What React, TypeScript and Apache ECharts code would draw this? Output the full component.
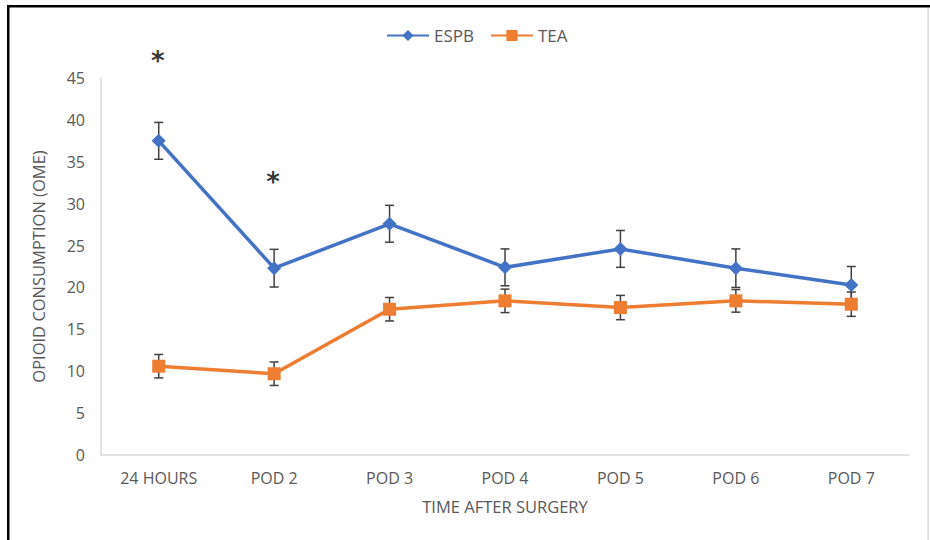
import React, { useEffect, useRef } from "react";
import * as echarts from "echarts";

const categories = ["24 HOURS", "POD 2", "POD 3", "POD 4", "POD 5", "POD 6", "POD 7"];
const espbValues = [37.5, 22.3, 27.6, 22.4, 24.6, 22.3, 20.3];
const espbErrors = [2.2, 2.25, 2.2, 2.2, 2.2, 2.3, 2.2];
const teaValues = [10.6, 9.7, 17.4, 18.4, 17.6, 18.4, 18.0];
const teaErrors = [1.4, 1.4, 1.4, 1.4, 1.45, 1.35, 1.45];
const significanceIndex = [0, 1];
const significanceLevel = [47.4, 33.0];
const yTicks = { min: 0, max: 45, interval: 5 };

const BLUE = "#4472C4";
const ORANGE = "#ED7D31";
const TEXT = "#595959";
const FONT = "'Open Sans', 'Noto Sans', sans-serif";

function errorBarSeries(name: string, values: number[], errors: number[]) {
  return {
    type: "custom",
    name: name + " error",
    z: 1,
    silent: true,
    data: values.map((v, i) => [i, v - errors[i], v + errors[i]]),
    encode: { x: 0, y: [1, 2] },
    renderItem: (params: any, api: any) => {
      const idx = api.value(0);
      const top = api.coord([idx, api.value(2)]);
      const bot = api.coord([idx, api.value(1)]);
      const hw = 4.5;
      const style = { stroke: "#404040", lineWidth: 1.5 };
      return {
        type: "group",
        children: [
          { type: "line", shape: { x1: top[0], y1: top[1], x2: bot[0], y2: bot[1] }, style },
          { type: "line", shape: { x1: top[0] - hw, y1: top[1], x2: top[0] + hw, y2: top[1] }, style },
          { type: "line", shape: { x1: bot[0] - hw, y1: bot[1], x2: bot[0] + hw, y2: bot[1] }, style },
        ],
      };
    },
  };
}

export default function App() {
  const ref = useRef<HTMLDivElement>(null);
  useEffect(() => {
    if (!ref.current) return;
    const chart = echarts.init(ref.current, undefined, { renderer: "svg" });
    chart.setOption({
      animation: false,
      backgroundColor: "#fff",
      textStyle: { fontFamily: FONT },
      graphic: [
        { type: "rect", shape: { x: 7, y: 5, width: 923, height: 2.5 }, style: { fill: "#000" } },
        { type: "rect", shape: { x: 7, y: 5, width: 2.5, height: 535 }, style: { fill: "#000" } },
        { type: "rect", shape: { x: 927.5, y: 8, width: 1.2, height: 532 }, style: { fill: "#d0d0d0" } },
      ],
      legend: {
        data: ["ESPB", "TEA"],
        top: 22,
        left: 381,
        itemWidth: 42,
        itemHeight: 14,
        itemGap: 16,
        textStyle: { fontSize: 17, color: TEXT, fontFamily: FONT },
      },
      grid: { left: 101, right: 21, top: 78, bottom: 85, containLabel: false },
      xAxis: {
        type: "category",
        data: categories,
        boundaryGap: true,
        axisLine: { show: true, lineStyle: { color: "#d9d9d9", width: 1.5 } },
        axisTick: { show: false },
        axisLabel: { color: TEXT, fontSize: 16, margin: 15, fontFamily: FONT },
        name: "TIME AFTER SURGERY",
        nameLocation: "middle",
        nameGap: 43,
        nameTextStyle: { color: TEXT, fontSize: 16.5, fontFamily: FONT, verticalAlign: "top" },
      },
      yAxis: {
        type: "value",
        min: yTicks.min,
        max: yTicks.max,
        interval: yTicks.interval,
        splitLine: { show: false },
        axisLine: { show: true, lineStyle: { color: "#d9d9d9", width: 1.5 } },
        axisTick: { show: false },
        axisLabel: { color: TEXT, fontSize: 16, margin: 16, fontFamily: FONT },
        name: "OPIOID CONSUMPTION (OME)",
        nameLocation: "middle",
        nameGap: 54,
        nameRotate: 90,
        nameTextStyle: { color: TEXT, fontSize: 16.5, fontFamily: FONT },
      },
      series: [
        errorBarSeries("ESPB", espbValues, espbErrors),
        errorBarSeries("TEA", teaValues, teaErrors),
        {
          type: "line",
          name: "ESPB",
          z: 3,
          data: espbValues,
          symbol: "diamond",
          symbolSize: 14,
          lineStyle: { color: BLUE, width: 3.5 },
          itemStyle: { color: BLUE },
        },
        {
          type: "line",
          name: "TEA",
          z: 3,
          data: teaValues,
          symbol: "rect",
          symbolSize: 13,
          lineStyle: { color: ORANGE, width: 3.5 },
          itemStyle: { color: ORANGE },
        },
        {
          type: "scatter",
          name: "significance",
          silent: true,
          clip: false,
          z: 4,
          symbolSize: 2,
          itemStyle: { color: "rgba(0,0,0,0)" },
          data: significanceIndex.map((c, i) => [c, significanceLevel[i]]),
          label: {
            show: true,
            position: "inside",
            formatter: "*",
            fontSize: 26,
            fontWeight: "bold",
            color: "#000",
            offset: [-1, 3],
            fontFamily: "'DejaVu Sans', sans-serif",
          },
        },
      ],
    });
    return () => chart.dispose();
  }, []);
  return (
    <div
      ref={ref}
      style={{ position: "absolute", left: 0, top: 0, width: 930, height: 540 }}
    />
  );
}
